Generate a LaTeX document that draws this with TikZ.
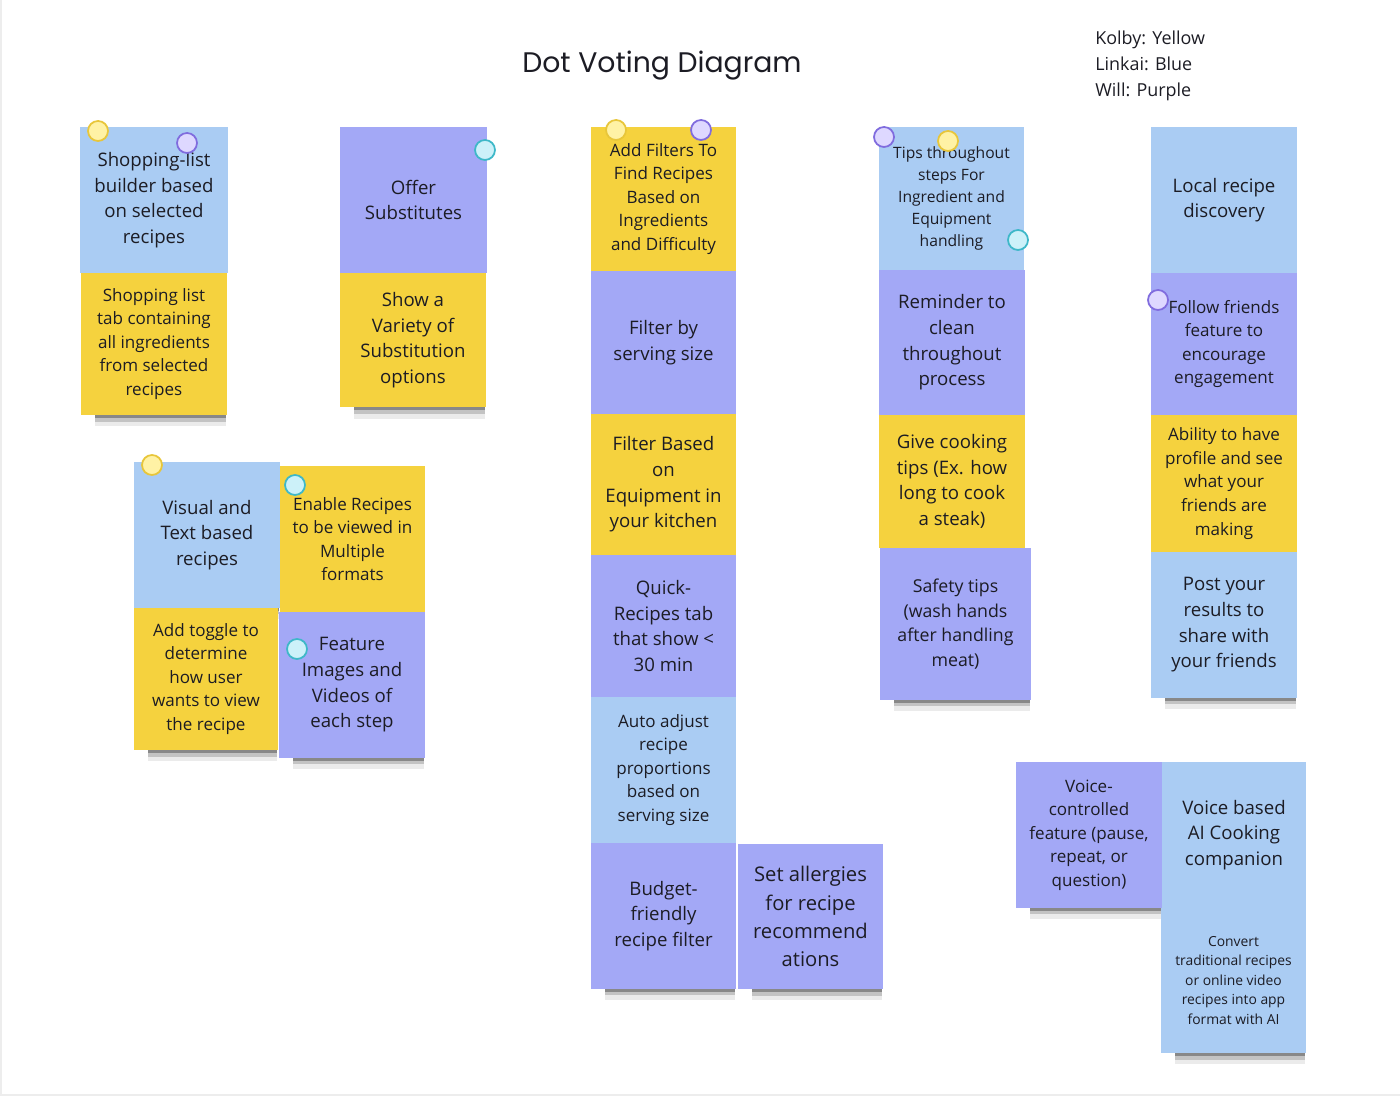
\documentclass[tikz,border=0pt]{standalone}
\usepackage{fontspec}
\setmainfont{Open Sans}
\newfontfamily\titlefont{Poppins}
\usepackage{xcolor}
\usetikzlibrary{positioning, fit, shadows}

\definecolor{stkblue}{RGB}{170,204,243}
\definecolor{stkpurp}{RGB}{163,168,246}
\definecolor{stkyell}{RGB}{245,210,62}
\definecolor{dotyell}{RGB}{255,242,165}
\definecolor{dotyelld}{RGB}{232,198,58}
\definecolor{dotpurp}{RGB}{222,216,255}
\definecolor{dotpurpd}{RGB}{128,108,222}
\definecolor{dotcyan}{RGB}{204,241,249}
\definecolor{dotcyand}{RGB}{62,184,200}
\definecolor{ink}{RGB}{28,28,36}

\begin{document}
\begin{tikzpicture}[
  x=0.02cm, y=-0.02cm,
  every node/.style={text=ink},
  shd/.style={shadow xshift=4pt, shadow scale=.9, fill=black},
  stk/.style={rectangle, inner sep=0pt,
              drop shadow={shd, shadow yshift=-6.4pt, opacity=.3},
              drop shadow={shd, shadow yshift=-8.7pt, opacity=.17},
              drop shadow={shd, shadow yshift=-11.6pt, opacity=.08}},
  bl/.style ={stk, fill=stkblue},
  pu/.style ={stk, fill=stkpurp},
  ye/.style ={stk, fill=stkyell},
  huge/.style ={align=center, font=\fontsize{11.5}{16}\selectfont},
  big/.style  ={align=center, font=\fontsize{10.6}{14.6}\selectfont},
  mid/.style  ={align=center, font=\fontsize{9.7}{13.4}\selectfont},
  midb/.style ={align=center, font=\fontsize{10.1}{14}\selectfont},
  small/.style={align=center, font=\fontsize{8.9}{12.5}\selectfont},
  tiny/.style ={align=center, font=\fontsize{7.9}{11.1}\selectfont},
  vdot/.style={circle, minimum size=0.4cm, inner sep=0pt, line width=1pt},
  vy/.style={vdot, fill=dotyell, draw=dotyelld},
  vp/.style={vdot, fill=dotpurp, draw=dotpurpd},
  vc/.style={vdot, fill=dotcyan, draw=dotcyand}
]
\useasboundingbox (0,0) rectangle (1400,1097);
\draw[black!7, line width=1pt] (1,0) -- (1,1095) -- (1400,1095);

%% title and legend
\node[font=\titlefont\fontsize{16.1}{19}\selectfont] (title) at (662,66) {Dot Voting Diagram};
\node[anchor=west, align=left, inner sep=0pt, font=\fontsize{10.2}{14.8}\selectfont] (legend) at (1095,66)
  {Kolby: Yellow\\Linkai: Blue\\Will: Purple};

%% shopping list
\node[bl, fit={(80,127) (228,273)}, label={[big]center:{Shopping-list\\builder based\\on selected\\recipes}}] (shoplist) {};
\node[ye, fit={(81,273) (227,415)}, label={[mid]center:{Shopping list\\tab containing\\all ingredients\\from selected\\recipes}}] (shoptab) {};

%% substitutes
\node[pu, fit={(340,127) (487,273)}, label={[big]center:{Offer\\Substitutes}}] (offersub) {};
\node[ye, fit={(340,273) (486,407)}, label={[big]center:{Show a\\Variety of\\Substitution\\options}}] (showvar) {};

%% formats
\node[bl, fit={(134,462) (280,608)}, label={[big]center:{Visual and\\Text based\\recipes}}] (visual) {};
\node[ye, fit={(280,466) (425,612)}, label={[mid]center:{Enable Recipes\\to be viewed in\\Multiple\\formats}}] (enable) {};
\node[ye, fit={(134,608) (278,750)}, label={[mid]center:{Add toggle to\\determine\\how user\\wants to view\\the recipe}}] (toggle) {};
\node[pu, fit={(279,612) (425,758)}, label={[big]center:{Feature\\Images and\\Videos of\\each step}}] (media) {};

%% filters
\node[ye, fit={(591,127) (736,271)}, label={[mid]center:{Add Filters To\\Find Recipes\\Based on\\Ingredients\\and Difficulty}}] (addfilt) {};
\node[pu, fit={(591,271) (736,414)}, label={[big]center:{Filter by\\serving size}}] (servsize) {};
\node[ye, fit={(591,414) (736,555)}, label={[big]center:{Filter Based\\on\\Equipment in\\your kitchen}}] (equip) {};
\node[pu, fit={(591,555) (736,697)}, label={[big]center:{Quick-\\Recipes tab\\that show <\\30 min}}] (quick) {};
\node[bl, fit={(591,697) (736,843)}, label={[mid]center:{Auto adjust\\recipe\\proportions\\based on\\serving size}}] (autoadj) {};
\node[pu, fit={(591,843) (736,989)}, label={[big]center:{Budget-\\friendly\\recipe filter}}] (budget) {};
\node[pu, fit={(738,844) (883,989)}, label={[huge]center:{Set allergies\\for recipe\\recommend\\ations}}] (allergy) {};

%% tips
\node[bl, fit={(879,127) (1024,270)}, label={[small]center:{Tips throughout\\steps For\\Ingredient and\\Equipment\\handling}}] (tips) {};
\node[pu, fit={(879,270) (1025,415)}, label={[big]center:{Reminder to\\clean\\throughout\\process}}] (clean) {};
\node[ye, fit={(879,415) (1025,548)}, label={[big]center:{Give cooking\\tips (Ex. how\\long to cook\\a steak)}}] (cooktips) {};
\node[pu, fit={(880,548) (1031,700)}, label={[midb]center:{Safety tips\\(wash hands\\after handling\\meat)}}] (safety) {};

%% social
\node[bl, fit={(1151,127) (1297,273)}, label={[big]center:{Local recipe\\discovery}}] (local) {};
\node[pu, fit={(1151,273) (1297,415)}, label={[mid]center:{Follow friends\\feature to\\encourage\\engagement}}] (follow) {};
\node[ye, fit={(1151,415) (1297,552)}, label={[mid]center:{Ability to have\\profile and see\\what your\\friends are\\making}}] (profile) {};
\node[bl, fit={(1151,552) (1297,698)}, label={[big]center:{Post your\\results to\\share with\\your friends}}] (post) {};

%% voice / AI
\node[pu, fit={(1016,762) (1162,908)}, label={[mid]center:{Voice-\\controlled\\feature (pause,\\repeat, or\\question)}}] (voicectl) {};
\node[bl, fit={(1162,762) (1306,908)}, label={[big]center:{Voice based\\AI Cooking\\companion}}] (voiceai) {};
\node[bl, fit={(1161,908) (1306,1053)}, label={[tiny]center:{Convert\\traditional recipes\\or online video\\recipes into app\\format with AI}}] (convert) {};

%% votes
\node[vy] (v1) at (98,131)   {};
\node[vp] (v2) at (187,143)  {};
\node[vc] (v3) at (485,150)  {};
\node[vy] (v4) at (152,465)  {};
\node[vc] (v5) at (295,485)  {};
\node[vc] (v6) at (297,649)  {};
\node[vy] (v7) at (616,130)  {};
\node[vp] (v8) at (701,130)  {};
\node[vp] (v9) at (884,137)  {};
\node[vy] (v10) at (948,141) {};
\node[vc] (v11) at (1018,240){};
\node[vp] (v12) at (1158,300){};
\end{tikzpicture}
\end{document}
